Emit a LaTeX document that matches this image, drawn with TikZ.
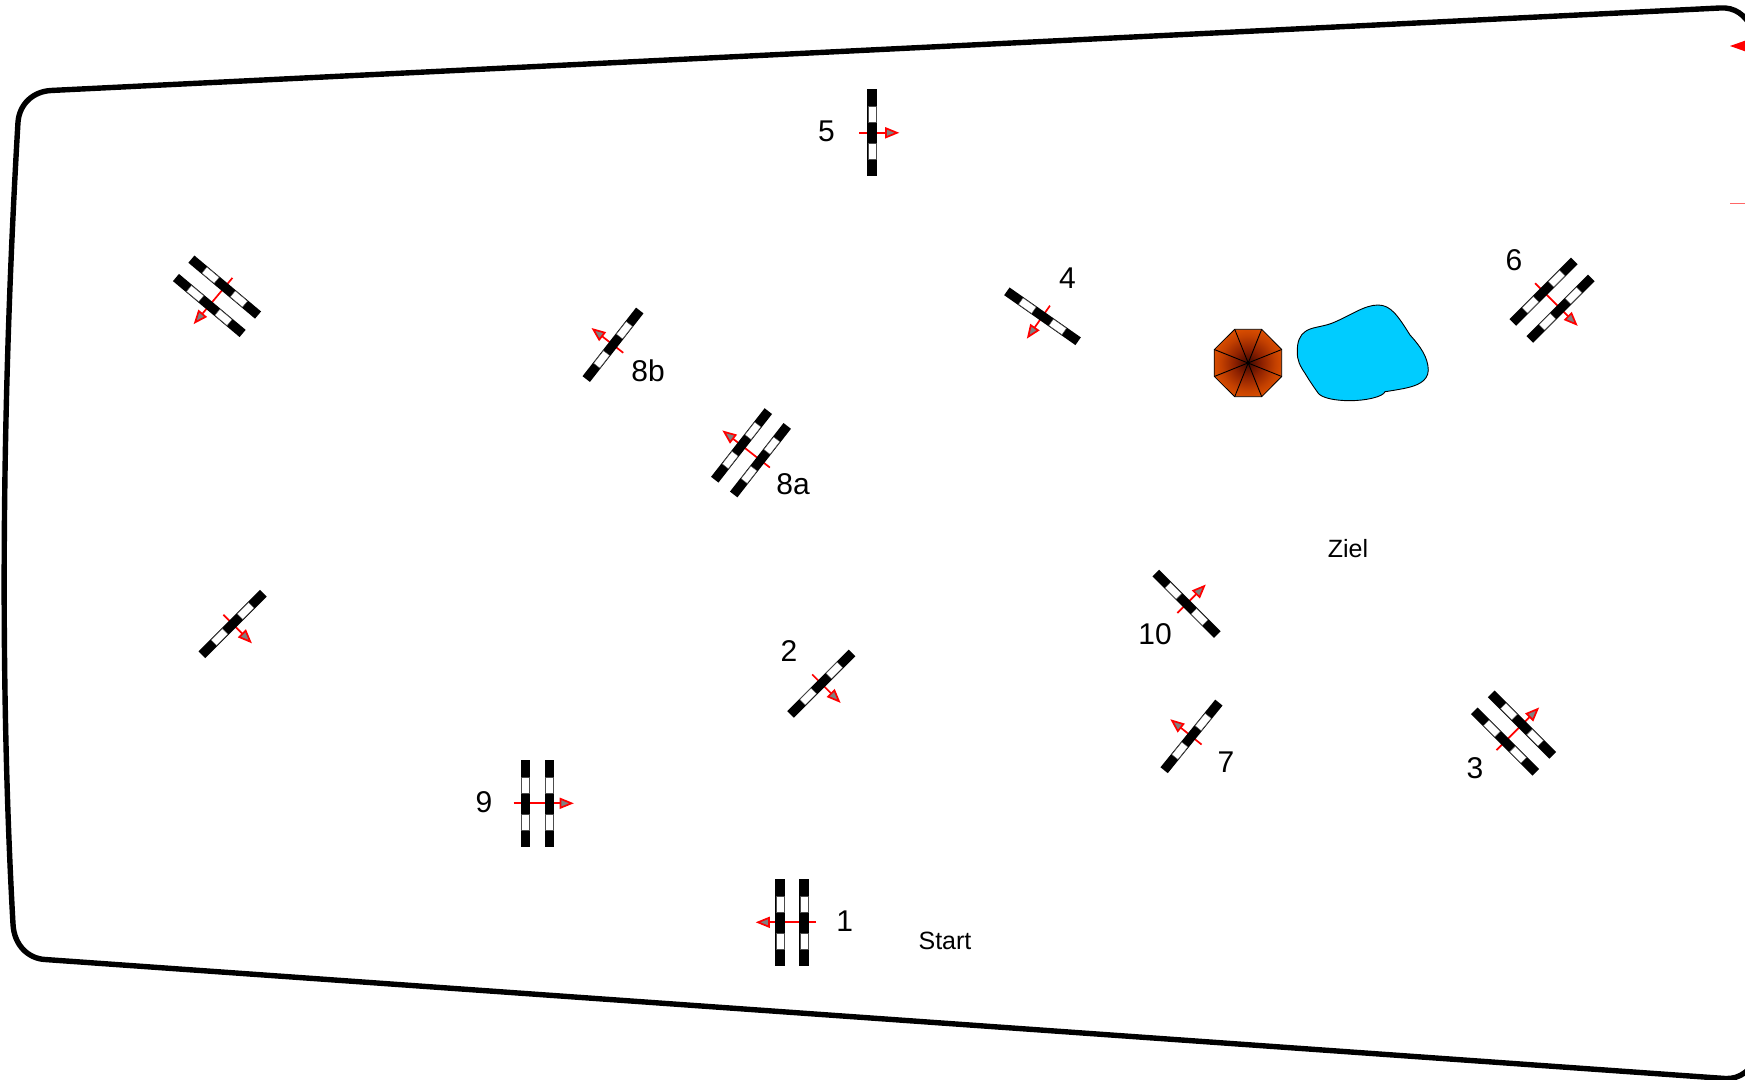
\documentclass[tikz,border=0pt]{standalone}
\usepackage{fontspec}
\setmainfont{Liberation Sans}
\definecolor{octoA}{RGB}{60,8,0}
\definecolor{octoB}{RGB}{140,32,0}
\definecolor{octoC}{RGB}{195,64,0}
\definecolor{octoE}{RGB}{235,88,0}
\definecolor{octoD}{RGB}{255,102,0}
\pgfdeclareradialshading{octoshade}{\pgfpoint{0bp}{0bp}}{color(0bp)=(octoA); color(10bp)=(octoB); color(20bp)=(octoC); color(30bp)=(octoE); color(38bp)=(octoD); color(60bp)=(octoD)}
\definecolor{lake}{HTML}{00CCFF}
\tikzset{
  x=0.5pt,y=-0.5pt,
  gatebar/.style={fill=black,draw=none},
  gatepane/.style={fill=white,draw=black!70,line width=0.2pt},
  gateline/.style={draw=red,line width=0.85pt},
  gatehead/.style={draw=red,fill=gray,line width=0.85pt,line join=miter},
  border/.style={draw=black,line width=2.7pt},
  numlabel/.style={font=\fontsize{15}{15}\selectfont,inner sep=0pt,text=black},
  caplabel/.style={font=\fontsize{12.5}{12.5}\selectfont,inner sep=0pt,text=black},
}
% one bar of a gate
\newcommand\gatepole[1]{%
  \fill[gatebar] (#1-4.7,-43.5) rectangle (#1+4.7,43.5);
  \draw[gatepane] (#1-3.9,-26.5) rectangle (#1+3.9,-10.5);
  \draw[gatepane] (#1-3.9,10.5) rectangle (#1+3.9,26.5);
}
% single gate: x, y, math angle of the arrow
\newcommand\singlegate[3]{%
  \begin{scope}[shift={(#1,#2+0.8)},rotate=#3]
    \draw[gateline] (-13,0) -- (14,0);
    \draw[gatehead] (14,-4.5) -- (25,0) -- (14,4.5) -- cycle;
    \gatepole{0}
  \end{scope}}
% double gate
\newcommand\doublegate[3]{%
  \begin{scope}[shift={(#1,#2+0.8)},rotate=#3]
    \draw[gateline] (-24,0) -- (23,0);
    \draw[gatehead] (23,-4.5) -- (34,0) -- (23,4.5) -- cycle;
    \gatepole{-12}
    \gatepole{12}
  \end{scope}}
\begin{document}
\begin{tikzpicture}
\useasboundingbox (0,0) rectangle (1745,1080);
\clip (0,0) rectangle (1745,1080);
% course border
\draw[border] (51,90.5) -- (1720,8)
  .. controls (1735,7) and (1745,15) .. (1752,28)
  -- (1760,1052)
  .. controls (1752,1070) and (1740,1079.5) .. (1725,1078.5)
  -- (45,959.5)
  .. controls (28,958.5) and (14,945) .. (13,924)
  .. controls (0.5,700) and (0.5,420) .. (18,122)
  .. controls (19.5,104) and (33,91.5) .. (51,90.5) -- cycle;
% gates just off the right edge
\fill[red] (1730,46) -- (1747,40) -- (1747,52) -- cycle;
\draw[draw=red!60,line width=0.5pt] (1730,203.5) -- (1747,203.5);
% gates
\singlegate{872}{132}{0}
\doublegate{792}{921.5}{180}
\doublegate{537.5}{802.5}{0}
\doublegate{217}{295.5}{230}
\singlegate{613}{344}{142}
\doublegate{751}{452}{142}
\singlegate{1042.5}{315.5}{235}
\doublegate{1552}{299.4}{-45}
\singlegate{1186.5}{603}{45}
\singlegate{1191.5}{735.6}{141}
\doublegate{1513.5}{732.3}{45}
\singlegate{821.3}{682.8}{-45}
\singlegate{232.6}{623.2}{-45}
% octagonal tent
\shade[shading=octoshade,draw=black,line width=0.4pt]
  (1234.7,329.3) -- (1261.7,329.3) -- (1281.7,349.5) -- (1281.7,376.5)
  -- (1261.7,396.7) -- (1234.7,396.7) -- (1214.3,376.5) -- (1214.3,349.5) -- cycle;
\draw[black,line width=0.45pt]
  (1234.7,329.3) -- (1261.7,396.7)
  (1261.7,329.3) -- (1234.7,396.7)
  (1281.7,349.5) -- (1214.3,376.5)
  (1281.7,376.5) -- (1214.3,349.5);
% lake
\draw[fill=lake,draw=black,line width=0.45pt]
  (1297.3,351.7)
  .. controls (1297,342) and (1300,335) .. (1305,331.7)
  .. controls (1311,327) and (1322,327) .. (1331.7,323.3)
  .. controls (1350,316) and (1364,305) .. (1378,305)
  .. controls (1391,305) and (1398,316) .. (1410,335)
  .. controls (1420,346) and (1428,357) .. (1428.3,370)
  .. controls (1428,382) and (1416,386) .. (1404,388.5)
  .. controls (1396,390) and (1390,391) .. (1385,391.7)
  .. controls (1383,397) and (1365,400.7) .. (1350,400.7)
  .. controls (1335,400.7) and (1322,398) .. (1318.3,393.3)
  .. controls (1313,386) and (1309,380) .. (1305,373.3)
  .. controls (1300,366) and (1297,360) .. (1297.3,351.7) -- cycle;
% labels
\node[numlabel] (n5) at (826.5,131.5) {5};
\node[numlabel] (n4) at (1067.5,278) {4};
\node[numlabel] (n6) at (1514,260.5) {6};
\node[numlabel] (n8b) at (648,371) {8b};
\node[numlabel] (n8a) at (793,484) {8a};
\node[numlabel] (n2) at (789,651) {2};
\node[numlabel] (n10) at (1155,634.5) {10};
\node[numlabel] (n7) at (1226,762) {7};
\node[numlabel] (n3) at (1475,768.5) {3};
\node[numlabel] (n9) at (484,802.4) {9};
\node[numlabel] (n1) at (844.7,921) {1};
\node[caplabel] (start) at (945,941) {Start};
\node[caplabel] (ziel) at (1348,548.5) {Ziel};
\end{tikzpicture}
\end{document}
